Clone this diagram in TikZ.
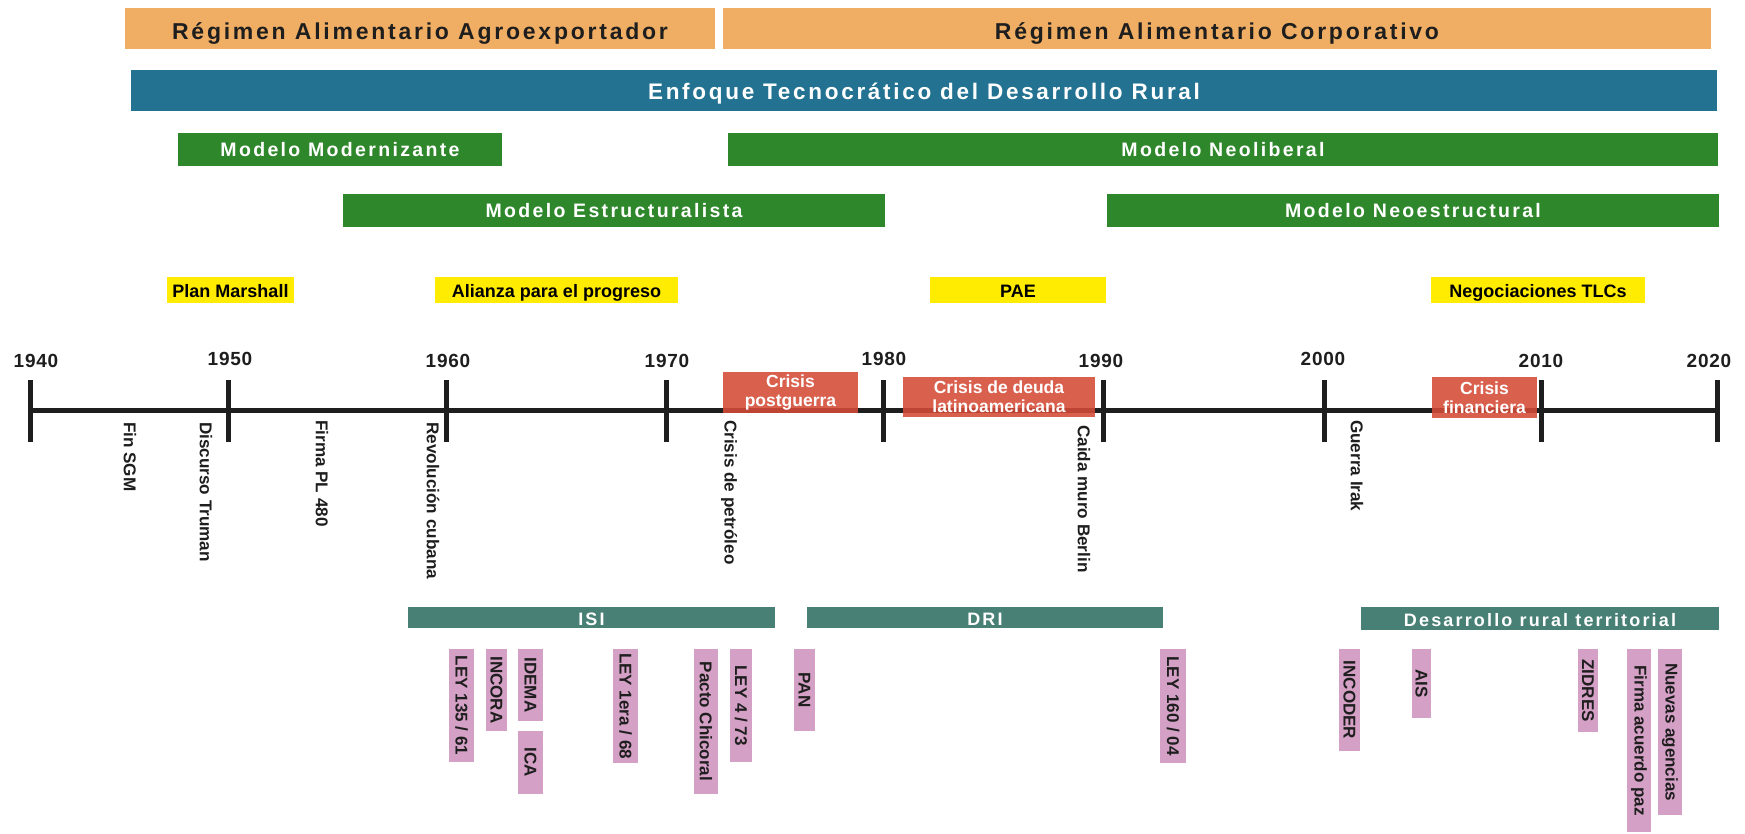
\documentclass[tikz,border=0pt]{standalone}
\usepackage{fontspec}
\setmainfont{Liberation Sans}
\newfontfamily\trackfont[LetterSpace=12]{Liberation Sans}
\newfontfamily\yearfont[LetterSpace=4]{Liberation Sans}

\definecolor{regimen}{RGB}{240,174,100}
\definecolor{enfoque}{RGB}{35,114,145}
\definecolor{modelo}{RGB}{47,135,43}
\definecolor{hito}{RGB}{255,236,0}
\definecolor{crisis}{RGB}{213,74,54}
\definecolor{politica}{RGB}{72,128,117}
\definecolor{norma}{RGB}{212,160,197}
\definecolor{tinta}{RGB}{30,30,30}

\begin{document}
\begin{tikzpicture}[x=1pt,y=-1pt,
  bandbox/.style={inner sep=0pt, outer sep=0pt, anchor=center},
  size/.style args={#1x#2}{minimum width=#1pt, minimum height=#2pt},
  regbar/.style={bandbox, fill=regimen, text=tinta,
    text height=22pt, text depth=0pt,
    font=\trackfont\bfseries\fontsize{23}{27}\selectfont},
  enfbar/.style={bandbox, fill=enfoque, text=white,
    text height=18pt, text depth=0pt,
    font=\trackfont\bfseries\fontsize{22.5}{26}\selectfont},
  modbar/.style={bandbox, fill=modelo, text=white,
    text height=14.5pt, text depth=0pt,
    font=\trackfont\bfseries\fontsize{19.5}{23}\selectfont},
  hitobox/.style={bandbox, fill=hito, text=black,
    text height=15.5pt, text depth=0pt,
    font=\bfseries\fontsize{18}{21}\selectfont},
  crisisbox/.style={bandbox, fill=crisis, fill opacity=.88, text opacity=1,
    text=white, align=center, font=\bfseries\fontsize{17.5}{19}\selectfont},
  polbar/.style={bandbox, fill=politica, text=white,
    text height=15pt, text depth=0pt,
    font=\trackfont\bfseries\fontsize{18}{21}\selectfont},
  normbox/.style={bandbox, fill=norma},
  normtext/.style={rotate=-90, inner sep=0pt, text=tinta,
    font=\bfseries\fontsize{17}{20}\selectfont},
  evento/.style={rotate=-90, anchor=west, inner sep=0pt, text=tinta,
    font=\bfseries\fontsize{17.1}{20}\selectfont},
  anio/.style={inner sep=0pt, text=tinta,
    font=\yearfont\bfseries\fontsize{19}{22}\selectfont},
  eje/.style={line width=5pt, draw=tinta},
  marca/.style={line width=5pt, draw=tinta}
]
\useasboundingbox[fill=white] (0,0) rectangle (1745,833);

% food regimes
\node[regbar, size=590x41] (ra) at (420,28.5) {Régimen Alimentario Agroexportador};
\node[regbar, size=988x41] (rc) at (1217,28.5) {Régimen Alimentario Corporativo};

% technocratic approach
\node[enfbar, size=1586x41] (enf) at (924,90.5) {Enfoque Tecnocrático del Desarrollo Rural};

% development models
\node[modbar, size=324x33] (mmod) at (340,149.5) {Modelo Modernizante};
\node[modbar, size=990x33] (mneo) at (1223,149.5) {Modelo Neoliberal};
\node[modbar, size=542x33] (mest) at (614,210.5) {Modelo Estructuralista};
\node[modbar, size=612x33] (mnes) at (1413,210.5) {Modelo Neoestructural};

% international programmes
\node[hitobox, size=127x26] (pm) at (230.5,290) {Plan Marshall};
\node[hitobox, size=243x26] (ap) at (556.5,290) {Alianza para el progreso};
\node[hitobox, size=176x26] (pae) at (1018,290) {PAE};
\node[hitobox, size=214x26] (tlc) at (1538,290) {Negociaciones TLCs};

% time axis
\coordinate (t0) at (30,410);
\coordinate (t8) at (1717,410);
\draw[eje] (t0) -- (t8);
\foreach \x/\n in {30/a,228/b,446/c,666/d,883/e,1103/f,1324/g,1541/h,1717/i}{
  \coordinate (tk\n) at (\x,380);
  \coordinate (tb\n) at (\x,442);
  \draw[marca] (tk\n) -- (tb\n);
}
\node[anio] (y1940) at (36,361) {1940};
\node[anio] (y1950) at (230,359) {1950};
\node[anio] (y1960) at (448,361) {1960};
\node[anio] (y1970) at (667,361) {1970};
\node[anio] (y1980) at (884,359) {1980};
\node[anio] (y1990) at (1101,361) {1990};
\node[anio] (y2000) at (1323,359) {2000};
\node[anio] (y2010) at (1541,361) {2010};
\node[anio] (y2020) at (1709,361) {2020};

% crises
\node[crisisbox, size=135x41] (c1) at (790.5,392.5) {Crisis\\postguerra};
\node[crisisbox, size=192x40] (c2) at (999,397) {Crisis de deuda\\latinoamericana};
\node[crisisbox, size=105x41] (c3) at (1484.5,397.5) {Crisis\\financiera};

% events
\node[evento] (e1) at (130,422) {Fin SGM};
\node[evento] (e2) at (206,422) {Discurso Truman};
\node[evento] (e3) at (322,420) {Firma PL 480};
\node[evento] (e4) at (433,422) {Revolución cubana};
\node[evento] (e5) at (729,420) {Crisis de petróleo};
\node[evento] (e6) at (1084,425) {Caida muro Berlin};
\node[evento] (e7) at (1357,420) {Guerra Irak};

% national policy approaches
\node[polbar, size=367x21] (isi) at (591.5,617.5) {ISI};
\node[polbar, size=356x21] (dri) at (985,617.5) {DRI};
\node[polbar, size=358x23] (drt) at (1540,618.5) {Desarrollo rural territorial};

% laws and institutions
\foreach \nm/\xa/\xb/\ya/\yb/\txt in {
  n1/449/474/649/762/{LEY 135 / 61},
  n2/486/507/649/731/{INCORA},
  n3/518/543/649/721/{IDEMA},
  n4/518/543/731/794/{ICA},
  n5/613/638/649/763/{LEY 1era / 68},
  n6/694/718/649/794/{Pacto Chicoral},
  n7/730/752/649/762/{LEY 4 / 73},
  n8/794/815/649/731/{PAN},
  n9/1160/1186/649/763/{LEY 160 / 04},
  n10/1339/1360/649/751/{INCODER},
  n11/1412/1431/649/718/{AIS},
  n12/1578/1598/649/732/{ZIDRES},
  n13/1627/1651/649/832/{Firma acuerdo paz},
  n14/1658/1682/649/815/{Nuevas agencias}}{
  \pgfmathsetmacro{\bw}{\xb-\xa}
  \pgfmathsetmacro{\bh}{\yb-\ya}
  \node[normbox, minimum width=\bw pt, minimum height=\bh pt]
    (\nm) at ({(\xa+\xb)/2},{(\ya+\yb)/2}) {};
  \node[normtext] (\nm t) at (\nm.center) {\txt};
}
\end{tikzpicture}
\end{document}
